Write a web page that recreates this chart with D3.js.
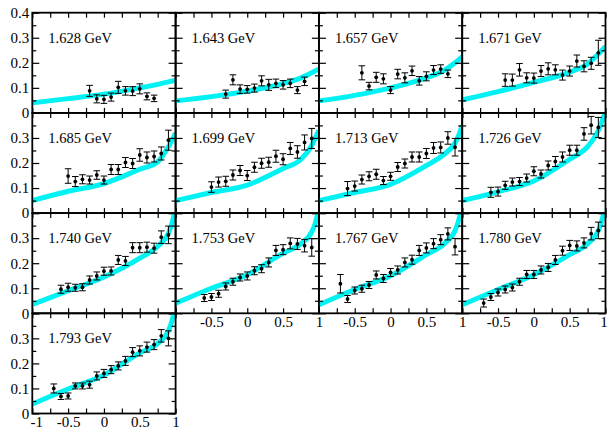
<!DOCTYPE html>
<html>
<head>
<meta charset="utf-8">
<script src="https://cdn.jsdelivr.net/npm/d3@7"></script>
<style>
  body { margin: 0; background: #fff; }
  svg text { font-family: "Liberation Serif", "Times New Roman", Times, serif; }
</style>
</head>
<body>
<div id="chart"></div>
<script>
// energies of each panel
const energies = ["1.628 GeV", "1.643 GeV", "1.657 GeV", "1.671 GeV",
  "1.685 GeV", "1.699 GeV", "1.713 GeV", "1.726 GeV",
  "1.740 GeV", "1.753 GeV", "1.767 GeV", "1.780 GeV", "1.793 GeV"];

// cos(theta) bins of the data points, per panel
const cosTheta = [
  [-0.2, -0.1, 0, 0.1, 0.2, 0.3, 0.4, 0.5, 0.6, 0.7],
  [-0.3, -0.2, -0.1, 0, 0.1, 0.2, 0.3, 0.4, 0.5, 0.6, 0.7, 0.8],
  [-0.4, -0.3, -0.2, -0.1, 0, 0.1, 0.2, 0.3, 0.4, 0.5, 0.6, 0.7, 0.8],
  [-0.4, -0.3, -0.2, -0.1, 0, 0.1, 0.2, 0.3, 0.4, 0.5, 0.6, 0.7, 0.8, 0.9],
  [-0.5, -0.4, -0.3, -0.2, -0.1, 0, 0.1, 0.2, 0.3, 0.4, 0.5, 0.6, 0.7, 0.8, 0.9],
  [-0.5, -0.4, -0.3, -0.2, -0.1, 0, 0.1, 0.2, 0.3, 0.4, 0.5, 0.6, 0.7, 0.8, 0.9],
  [-0.6, -0.5, -0.4, -0.3, -0.2, -0.1, 0, 0.1, 0.2, 0.3, 0.4, 0.5, 0.6, 0.7, 0.8, 0.9],
  [-0.6, -0.5, -0.4, -0.3, -0.2, -0.1, 0, 0.1, 0.2, 0.3, 0.4, 0.5, 0.6, 0.7, 0.8, 0.9],
  [-0.6, -0.5, -0.4, -0.3, -0.2, -0.1, 0, 0.1, 0.2, 0.3, 0.4, 0.5, 0.6, 0.7, 0.8, 0.9],
  [-0.6, -0.5, -0.4, -0.3, -0.2, -0.1, 0, 0.1, 0.2, 0.3, 0.4, 0.5, 0.6, 0.7, 0.8, 0.9],
  [-0.7, -0.6, -0.5, -0.4, -0.3, -0.2, -0.1, 0, 0.1, 0.2, 0.3, 0.4, 0.5, 0.6, 0.7, 0.8, 0.9],
  [-0.7, -0.6, -0.5, -0.4, -0.3, -0.2, -0.1, 0, 0.1, 0.2, 0.3, 0.4, 0.5, 0.6, 0.7, 0.8, 0.9],
  [-0.7, -0.6, -0.5, -0.4, -0.3, -0.2, -0.1, 0, 0.1, 0.2, 0.3, 0.4, 0.5, 0.6, 0.7, 0.8, 0.9]
];

// measured values
const dsig = [
  [0.088, 0.056, 0.054, 0.063, 0.102, 0.088, 0.087, 0.096, 0.066, 0.058],
  [0.075, 0.132, 0.095, 0.094, 0.099, 0.128, 0.112, 0.118, 0.112, 0.118, 0.091, 0.126],
  [0.160, 0.107, 0.142, 0.136, 0.091, 0.155, 0.140, 0.168, 0.128, 0.146, 0.171, 0.175, 0.156],
  [0.131, 0.131, 0.172, 0.140, 0.139, 0.167, 0.176, 0.172, 0.151, 0.167, 0.207, 0.186, 0.198, 0.240],
  [0.148, 0.126, 0.135, 0.132, 0.152, 0.132, 0.174, 0.174, 0.202, 0.198, 0.232, 0.222, 0.226, 0.238, 0.291],
  [0.104, 0.124, 0.127, 0.152, 0.170, 0.150, 0.183, 0.199, 0.203, 0.227, 0.215, 0.258, 0.244, 0.282, 0.298],
  [0.098, 0.108, 0.134, 0.147, 0.155, 0.130, 0.147, 0.184, 0.198, 0.224, 0.224, 0.238, 0.260, 0.262, 0.300, 0.263],
  [0.083, 0.086, 0.111, 0.124, 0.126, 0.140, 0.167, 0.156, 0.190, 0.206, 0.224, 0.251, 0.251, 0.316, 0.351, 0.342],
  [0.096, 0.104, 0.102, 0.104, 0.133, 0.149, 0.168, 0.169, 0.213, 0.209, 0.262, 0.262, 0.264, 0.260, 0.304, 0.313],
  [0.061, 0.065, 0.078, 0.107, 0.126, 0.143, 0.149, 0.170, 0.178, 0.203, 0.251, 0.254, 0.279, 0.277, 0.270, 0.263],
  [0.118, 0.057, 0.091, 0.098, 0.113, 0.153, 0.139, 0.163, 0.173, 0.203, 0.214, 0.251, 0.261, 0.278, 0.294, 0.317, 0.266],
  [0.041, 0.065, 0.083, 0.095, 0.103, 0.126, 0.155, 0.155, 0.173, 0.183, 0.213, 0.250, 0.271, 0.269, 0.281, 0.318, 0.331],
  [0.100, 0.068, 0.070, 0.110, 0.110, 0.115, 0.150, 0.160, 0.175, 0.190, 0.210, 0.245, 0.250, 0.265, 0.275, 0.310, 0.300]
];

// errors
const dsigErr = [
  [0.022, 0.016, 0.016, 0.016, 0.024, 0.017, 0.018, 0.020, 0.014, 0.013],
  [0.016, 0.020, 0.017, 0.015, 0.016, 0.020, 0.022, 0.017, 0.017, 0.017, 0.014, 0.017],
  [0.028, 0.015, 0.020, 0.020, 0.014, 0.019, 0.020, 0.019, 0.017, 0.018, 0.018, 0.017, 0.015],
  [0.025, 0.024, 0.025, 0.020, 0.020, 0.022, 0.024, 0.020, 0.020, 0.020, 0.024, 0.022, 0.024, 0.050],
  [0.029, 0.020, 0.018, 0.016, 0.017, 0.016, 0.020, 0.020, 0.020, 0.020, 0.025, 0.022, 0.022, 0.026, 0.040],
  [0.021, 0.020, 0.020, 0.020, 0.020, 0.020, 0.020, 0.020, 0.020, 0.024, 0.022, 0.024, 0.025, 0.030, 0.040],
  [0.028, 0.020, 0.018, 0.018, 0.020, 0.016, 0.016, 0.018, 0.018, 0.020, 0.020, 0.020, 0.022, 0.022, 0.025, 0.035],
  [0.020, 0.018, 0.016, 0.016, 0.016, 0.016, 0.018, 0.016, 0.018, 0.020, 0.020, 0.020, 0.020, 0.025, 0.035, 0.040],
  [0.016, 0.016, 0.014, 0.014, 0.016, 0.016, 0.016, 0.016, 0.018, 0.018, 0.020, 0.020, 0.020, 0.020, 0.025, 0.035],
  [0.014, 0.014, 0.014, 0.014, 0.014, 0.014, 0.016, 0.016, 0.016, 0.018, 0.020, 0.020, 0.022, 0.022, 0.025, 0.035],
  [0.037, 0.014, 0.014, 0.014, 0.014, 0.016, 0.016, 0.016, 0.016, 0.018, 0.018, 0.020, 0.020, 0.020, 0.020, 0.024, 0.033],
  [0.016, 0.014, 0.014, 0.014, 0.014, 0.014, 0.016, 0.016, 0.016, 0.016, 0.018, 0.018, 0.020, 0.020, 0.020, 0.025, 0.033],
  [0.018, 0.012, 0.012, 0.012, 0.012, 0.014, 0.016, 0.016, 0.016, 0.016, 0.018, 0.018, 0.020, 0.020, 0.020, 0.025, 0.030]
];

// model band (centre line), read at these cos(theta) values
const bandX = [-1, -0.5, 0, 0.5, 0.75, 0.9, 0.95, 1];
const bandY = [
  [0.040, 0.057, 0.075, 0.100, 0.114, 0.124, 0.127, 0.130],
  [0.048, 0.065, 0.087, 0.117, 0.140, 0.160, 0.168, 0.176],
  [0.048, 0.070, 0.100, 0.140, 0.170, 0.200, 0.212, 0.225],
  [0.052, 0.085, 0.122, 0.163, 0.195, 0.235, 0.250, 0.265],
  [0.050, 0.087, 0.118, 0.175, 0.205, 0.265, 0.290, 0.320],
  [0.050, 0.082, 0.112, 0.178, 0.215, 0.270, 0.300, 0.330],
  [0.050, 0.082, 0.115, 0.190, 0.235, 0.280, 0.310, 0.350],
  [0.050, 0.085, 0.128, 0.215, 0.265, 0.330, 0.365, 0.410],
  [0.035, 0.090, 0.145, 0.220, 0.268, 0.320, 0.360, 0.420],
  [0.040, 0.100, 0.154, 0.240, 0.278, 0.325, 0.360, 0.420],
  [0.034, 0.095, 0.150, 0.234, 0.278, 0.330, 0.370, 0.430],
  [0.034, 0.095, 0.154, 0.234, 0.278, 0.330, 0.370, 0.430],
  [0.038, 0.098, 0.154, 0.242, 0.280, 0.330, 0.370, 0.430]
];

const xMajor = [-1, -0.5, 0, 0.5, 1];
const xMinor = [-0.75, -0.25, 0.25, 0.75];
const yMajor = [0, 0.1, 0.2, 0.3, 0.4];
const yMinor = [0.05, 0.15, 0.25, 0.35];

const width = 608, height = 434;
const gridLeft = 32.3, gridTop = 12.7;
const pw = 143.3, ph = 100.2;

const svg = d3.select("#chart").append("svg")
  .attr("width", width)
  .attr("height", height);

const x = d3.scaleLinear().domain([-1, 1]).range([0, pw]);
const y = d3.scaleLinear().domain([0, 0.4]).range([ph, 0]);

const fmt = d => String(d);

const band = d3.line()
  .x((d, i) => x(bandX[i]))
  .y(d => y(d))
  .curve(d3.curveMonotoneX);

energies.forEach((label, p) => {
  const col = p % 4, row = Math.floor(p / 4);
  const g = svg.append("g")
    .attr("transform", `translate(${gridLeft + col * pw},${gridTop + row * ph})`);

  g.append("clipPath").attr("id", "clip" + p)
    .append("rect").attr("width", pw).attr("height", ph);

  g.append("path")
    .attr("clip-path", `url(#clip${p})`)
    .attr("d", band(bandY[p]))
    .attr("fill", "none")
    .attr("stroke", "#00f2f2")
    .attr("stroke-width", 5);

  const pts = cosTheta[p].map((c, i) => ({c, v: dsig[p][i], e: dsigErr[p][i]}));
  const pt = g.selectAll("g.pt").data(pts).join("g").attr("class", "pt");
  pt.append("line")
    .attr("x1", d => x(d.c)).attr("x2", d => x(d.c))
    .attr("y1", d => y(d.v - d.e)).attr("y2", d => y(d.v + d.e))
    .attr("stroke", "#000").attr("stroke-width", 1);
  [-1, 1].forEach(s => {
    pt.append("line")
      .attr("x1", d => x(d.c) - 3.3).attr("x2", d => x(d.c) + 3.3)
      .attr("y1", d => y(d.v + s * d.e)).attr("y2", d => y(d.v + s * d.e))
      .attr("stroke", "#000").attr("stroke-width", 1);
  });
  pt.append("circle")
    .attr("cx", d => x(d.c)).attr("cy", d => y(d.v))
    .attr("r", 1.9).attr("fill", "#000");

  // ticks, pointing inward on every side
  const showY = col === 0;
  const showX = row === 3 || (row === 2 && col > 0);
  const yLab = row === 0 ? yMajor : yMajor.slice(0, 4);
  const xLab = col === 0 ? xMajor : xMajor.slice(1);

  g.append("g").call(d3.axisLeft(y).tickValues(yMajor).tickSize(-7)
      .tickFormat(d => showY && yLab.includes(d) ? fmt(d) : ""));
  g.append("g").call(d3.axisLeft(y).tickValues(yMinor).tickSize(-4).tickFormat(""));
  g.append("g").attr("transform", `translate(${pw},0)`)
    .call(d3.axisRight(y).tickValues(yMajor).tickSize(-7).tickFormat(""));
  g.append("g").attr("transform", `translate(${pw},0)`)
    .call(d3.axisRight(y).tickValues(yMinor).tickSize(-4).tickFormat(""));
  const xAx = g.append("g").attr("transform", `translate(0,${ph})`)
    .call(d3.axisBottom(x).tickValues(xMajor).tickSize(-5)
      .tickFormat(d => showX && xLab.includes(d) ? fmt(d) : ""));
  g.append("g").attr("transform", `translate(0,${ph})`)
    .call(d3.axisBottom(x).tickValues(xMinor).tickSize(-5).tickFormat(""));
  g.append("g")
    .call(d3.axisTop(x).tickValues(xMajor.concat(xMinor)).tickSize(-5).tickFormat(""));

  // nudge the end labels so they stay clear of neighbours and the edge
  xAx.selectAll(".tick text")
    .attr("dx", d => d === -1 ? 4 : (d === 1 && col === 3 ? -2 : 0));

  g.selectAll(".domain").remove();
  g.selectAll(".tick line").attr("stroke", "#000").attr("stroke-width", 1.2);
  g.selectAll(".tick text")
    .attr("fill", "#000")
    .attr("font-family", "Liberation Serif, Times New Roman, serif")
    .attr("font-size", 15);

  g.append("rect")
    .attr("width", pw).attr("height", ph)
    .attr("fill", "none").attr("stroke", "#000").attr("stroke-width", 1.8);

  g.append("text")
    .attr("x", 16).attr("y", 30)
    .attr("font-family", "Liberation Serif, Times New Roman, serif")
    .attr("font-size", 14.5)
    .attr("fill", "#000")
    .text(label);
});
</script>
</body>
</html>
